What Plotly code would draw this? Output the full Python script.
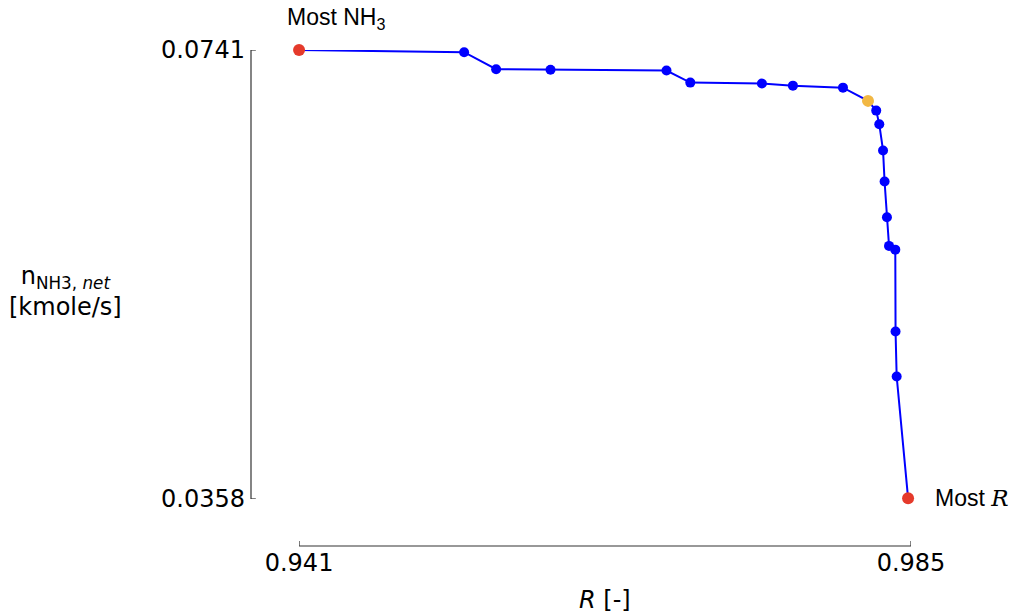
import plotly.graph_objects as go

# Pareto front: recovery R versus net ammonia production
r_values = [0.9410, 0.95287, 0.95517, 0.95908, 0.96742, 0.96913, 0.97428, 0.97651,
            0.98011, 0.98191, 0.98250, 0.98272, 0.98299, 0.98310, 0.98327, 0.98342,
            0.98387, 0.98389, 0.98397, 0.98479]
nh3_values = [0.07410, 0.07391, 0.07246, 0.07241, 0.07235, 0.07132, 0.07124, 0.07106,
              0.07089, 0.06976, 0.06893, 0.06776, 0.06553, 0.06288, 0.05984, 0.05739,
              0.05707, 0.05009, 0.04625, 0.03587]

x_ticks = [0.941, 0.985]
x_ticklabels = ["0.941", "0.985"]
y_ticks = [0.0358, 0.0741]
y_ticklabels = ["0.0358", "0.0741"]

i_most_nh3 = 0
i_most_r = len(r_values) - 1
i_chosen = 9

BLUE = "#0000ff"
RED = "#e53a2b"
YELLOW = "#f2b843"
SPINE = "#333333"
TICK_FONT = dict(family="DejaVu Sans", size=24, color="#000000")
LABEL_FONT = dict(family="Liberation Sans", size=23, color="#000000")

fig = go.Figure()

fig.add_trace(go.Scatter(
    x=r_values, y=nh3_values, mode="lines+markers",
    line=dict(color=BLUE, width=2),
    marker=dict(color=BLUE, size=10),
    cliponaxis=False, showlegend=False, hoverinfo="x+y",
))

extremes = [i_most_nh3, i_most_r]
fig.add_trace(go.Scatter(
    x=[r_values[i] for i in extremes], y=[nh3_values[i] for i in extremes],
    mode="markers", marker=dict(color=RED, size=12),
    cliponaxis=False, showlegend=False,
))
fig.add_trace(go.Scatter(
    x=[r_values[i_chosen]], y=[nh3_values[i_chosen]],
    mode="markers", marker=dict(color=YELLOW, size=12),
    cliponaxis=False, showlegend=False,
))

fig.add_annotation(
    x=r_values[i_most_nh3], y=nh3_values[i_most_nh3], xref="x", yref="y",
    text="Most NH<sub>3</sub>", showarrow=False, font=LABEL_FONT,
    xanchor="left", yanchor="middle", xshift=-14, yshift=32,
)
fig.add_annotation(
    x=r_values[i_most_r], y=nh3_values[i_most_r], xref="x", yref="y",
    text="Most <span style=\"font-family:'DejaVu Serif'\"><i>R</i></span>",
    showarrow=False, font=LABEL_FONT,
    xanchor="left", yanchor="middle", xshift=25, yshift=0,
)

# axis titles
fig.add_annotation(
    x=0.5366, y=-0.108, xref="paper", yref="paper",
    text="<i>R</i> [-]", showarrow=False, font=TICK_FONT,
    xanchor="center", yanchor="middle",
)
fig.add_annotation(
    x=-0.2804, y=0.514, xref="paper", yref="paper",
    text="n<sub>NH3, <i>net</i></sub><br>[kmole/s]", showarrow=False, font=TICK_FONT,
    xanchor="center", yanchor="middle", align="center",
)

# detached spines spanning only the tick range, with short inward ticks
line_style = dict(color=SPINE, width=1.2)
fig.add_shape(type="line", xref="x", yref="paper",
              x0=x_ticks[0], x1=x_ticks[-1], y0=0, y1=0, line=line_style)
fig.add_shape(type="line", xref="paper", yref="y",
              x0=0, x1=0, y0=y_ticks[0], y1=y_ticks[-1], line=line_style)
for xv in x_ticks:
    fig.add_shape(type="line", xref="x", yref="paper",
                  x0=xv, x1=xv, y0=0, y1=5 / 496, line=line_style)
for yv in y_ticks:
    fig.add_shape(type="line", xref="paper", yref="y",
                  x0=0, x1=5 / 660, y0=yv, y1=yv, line=line_style)

axis_common = dict(
    showgrid=False, zeroline=False, showline=False, ticks="",
    tickfont=TICK_FONT,
)

fig.update_layout(
    width=1012, height=616,
    margin=dict(l=251, r=101, t=50, b=70),
    paper_bgcolor="white", plot_bgcolor="white",
    xaxis=dict(domain=[0.0728, 1], range=[0.941, 0.985], anchor="free", position=0,
               tickvals=x_ticks, ticktext=x_ticklabels, **axis_common),
    yaxis=dict(domain=[0.0948, 1], range=[0.0358, 0.0741], anchor="free", position=0,
               tickvals=y_ticks, ticktext=y_ticklabels, ticklabelstandoff=6,
               **axis_common),
)

fig.write_html("out.html")
